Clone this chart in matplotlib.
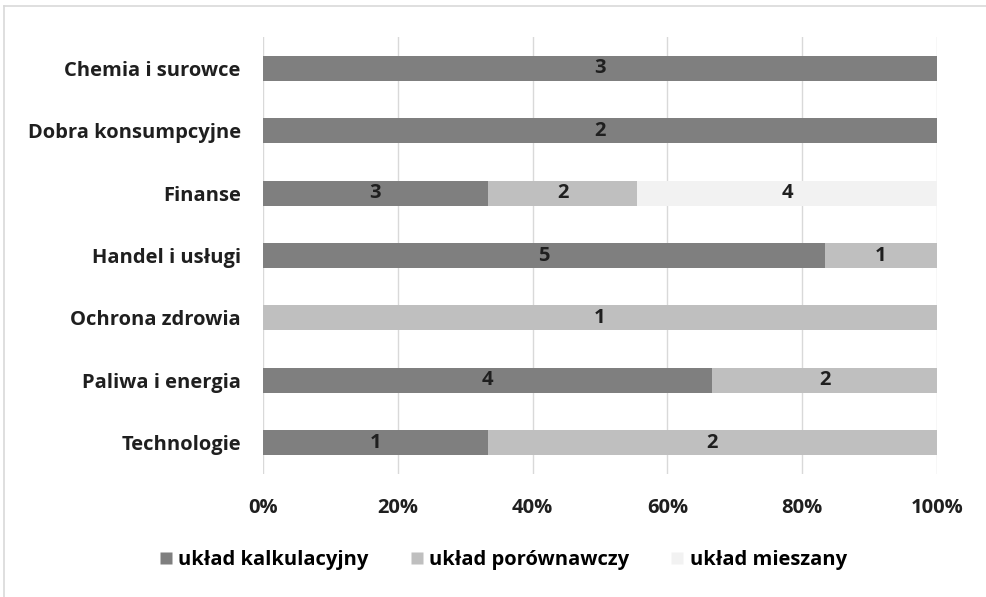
import matplotlib
matplotlib.use("Agg")
import matplotlib.pyplot as plt
from matplotlib.lines import Line2D
import numpy as np

categories = ["Chemia i surowce", "Dobra konsumpcyjne", "Finanse", "Handel i usługi",
              "Ochrona zdrowia", "Paliwa i energia", "Technologie"]
kalkulacyjny = [3, 2, 3, 5, 0, 4, 1]
porownawczy = [0, 0, 2, 1, 1, 2, 2]
mieszany = [0, 0, 4, 0, 0, 0, 0]
series_names = ["układ kalkulacyjny", "układ porównawczy", "układ mieszany"]
colors = ["#7f7f7f", "#bfbfbf", "#f2f2f2"]
xticks = [0, 0.2, 0.4, 0.6, 0.8, 1.0]
xtick_labels = ["0%", "20%", "40%", "60%", "80%", "100%"]

plt.rcParams["font.family"] = ["Open Sans", "DejaVu Sans"]
plt.rcParams["font.weight"] = "bold"
FS = 14.5
TXT = "#1f1f1f"

fig = plt.figure(figsize=(9.87, 5.97), dpi=100)
ax = fig.add_axes([0.2665, 0.206, 0.9494 - 0.2665, 0.938 - 0.206])

data = np.array([kalkulacyjny, porownawczy, mieszany], dtype=float)
totals = data.sum(axis=0)
shares = data / totals
y = np.arange(len(categories))
left = np.zeros(len(categories))
for vals, sh, col in zip(data, shares, colors):
    ax.barh(y, sh, left=left, height=0.4, color=col, edgecolor="none", zorder=3)
    for yi, v, s, l in zip(y, vals, sh, left):
        if v > 0:
            ax.text(l + s / 2, yi, f"{int(v)}", ha="center", va="center",
                    fontsize=FS, fontweight="bold", color=TXT, zorder=4)
    left = left + sh

ax.set_xlim(0, 1)
ax.set_ylim(len(categories) - 0.5, -0.5)
ax.set_yticks(y)
ax.set_yticklabels(categories, fontsize=FS, fontweight="bold", color=TXT)
ax.set_xticks(xticks)
ax.set_xticklabels(xtick_labels, fontsize=FS, fontweight="bold", color=TXT)
ax.tick_params(axis="both", length=0)
ax.tick_params(axis="y", pad=16)
ax.tick_params(axis="x", pad=17)
ax.grid(axis="x", color="#d9d9d9", linewidth=1, zorder=0)
for sp in ax.spines.values():
    sp.set_visible(False)

handles = [Line2D([], [], marker="s", linestyle="none", markersize=9,
                  markerfacecolor=c, markeredgecolor="none") for c in colors]
fig.legend(handles, series_names, loc="center", bbox_to_anchor=(0.508, 0.062),
           ncol=3, frameon=False, handletextpad=0.1, columnspacing=1.9,
           handlelength=1.0, prop={"weight": "bold", "size": FS})

# outer chart frame
fig.add_artist(Line2D([0.004, 1.0], [0.990, 0.990], color="#d9d9d9", lw=1.2, transform=fig.transFigure))
fig.add_artist(Line2D([0.004, 0.004], [0.0, 0.990], color="#d9d9d9", lw=1.2, transform=fig.transFigure))

fig.savefig("out.png", dpi=100, facecolor="white")
